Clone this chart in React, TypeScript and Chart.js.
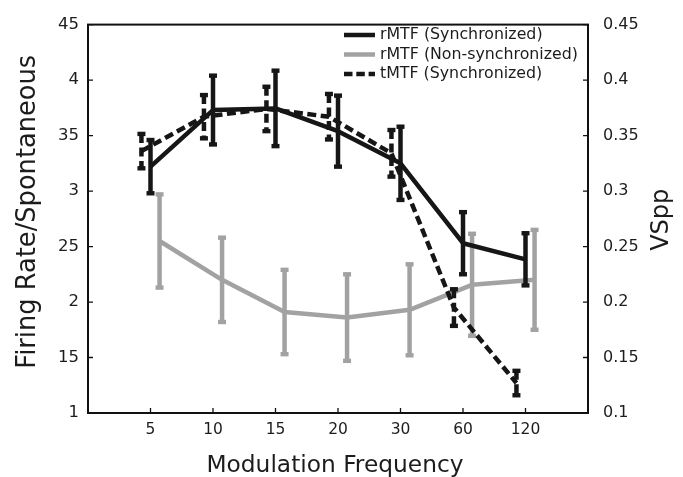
import React, { useEffect, useRef } from 'react';
import { Chart, registerables } from 'chart.js';

Chart.register(...registerables);

// ---- data ----
const categories = ['5', '10', '15', '20', '30', '60', '120'];

const rSyncMean = [3.22, 3.73, 3.745, 3.54, 3.25, 2.53, 2.385];
const rSyncErr = [0.24, 0.31, 0.34, 0.32, 0.33, 0.28, 0.235];

const rNonSyncMean = [2.55, 2.2, 1.91, 1.86, 1.93, 2.155, 2.2];
const rNonSyncErr = [0.42, 0.38, 0.38, 0.39, 0.41, 0.46, 0.45];

const tSyncMean = [0.336, 0.367, 0.374, 0.367, 0.334, 0.195, 0.127];
const tSyncErr = [0.0155, 0.0195, 0.02, 0.0205, 0.021, 0.0165, 0.011];

const leftTickLabels = ['1', '15', '2', '25', '3', '35', '4', '45'];
const rightTickLabels = ['0.1', '0.15', '0.2', '0.25', '0.3', '0.35', '0.4', '0.45'];

const legendLabels = ['rMTF (Synchronized)', 'rMTF (Non-synchronized)', 'tMTF (Synchronized)'];

const xTitle = 'Modulation Frequency';
const yLeftTitle = 'Firing Rate/Spontaneous';
const yRightTitle = 'VSpp';

// ---- styles ----
const FONT = "'DejaVu Sans', sans-serif";
const TEXT = '#1c1c1c';
const BLACK = '#161616';
const GRAY = '#a2a2a2';
const DASH = [9, 4.5];
const LINE_W = 4.5;
const ERR_W = 4.5;
const OFFSET_SYNC = 0;
const OFFSET_NONSYNC = 0.145;
const OFFSET_T = -0.145;

const toPoints = (vals: number[], off: number) => vals.map((v, i) => ({ x: i + 1 + off, y: v }));

const errorBarPlugin = {
  id: 'errorBars',
  afterDatasetDraw(chart: any, args: any) {
    const ds = chart.data.datasets[args.index];
    const errs: number[] = ds.errors;
    if (!errs) return;
    const ctx = chart.ctx;
    const xs = chart.scales.x;
    const ys = chart.scales[ds.yAxisID];
    ctx.save();
    ctx.strokeStyle = ds.borderColor;
    ctx.fillStyle = ds.borderColor;
    ctx.lineWidth = ERR_W;
    ctx.lineCap = 'butt';
    ctx.setLineDash(ds.borderDash || []);
    ds.data.forEach((p: any, i: number) => {
      const x = xs.getPixelForValue(p.x);
      const yTop = ys.getPixelForValue(p.y + errs[i]);
      const yBot = ys.getPixelForValue(p.y - errs[i]);
      ctx.beginPath();
      ctx.moveTo(x, yTop);
      ctx.lineTo(x, yBot);
      ctx.stroke();
      ctx.fillRect(x - 4, yTop - 2.2, 8, 4.4);
      ctx.fillRect(x - 4, yBot - 2.2, 8, 4.4);
    });
    ctx.restore();
  },
};

const framePlugin = {
  id: 'frame',
  afterDraw(chart: any) {
    const ctx = chart.ctx;
    const { left, right, top, bottom } = chart.chartArea;
    const xs = chart.scales.x;
    const yl = chart.scales.y;
    const yr = chart.scales.y2;
    ctx.save();
    ctx.strokeStyle = '#111';
    ctx.lineWidth = 1.3;
    // inward ticks
    ctx.beginPath();
    yl.ticks.forEach((t: any) => {
      const y = yl.getPixelForValue(t.value);
      ctx.moveTo(left, y);
      ctx.lineTo(left + 5, y);
    });
    yr.ticks.forEach((t: any) => {
      const y = yr.getPixelForValue(t.value);
      ctx.moveTo(right, y);
      ctx.lineTo(right - 5, y);
    });
    xs.ticks.forEach((t: any) => {
      if (t.value < 1 || t.value > categories.length) return;
      const x = xs.getPixelForValue(t.value);
      ctx.moveTo(x, bottom);
      ctx.lineTo(x, bottom - 5);
    });
    ctx.stroke();
    // box
    ctx.lineWidth = 2;
    ctx.strokeRect(left, top, right - left, bottom - top);
    ctx.restore();

    // legend
    const styles = [
      { color: BLACK, width: 4.5, dash: [] as number[] },
      { color: GRAY, width: 4.5, dash: [] as number[] },
      { color: BLACK, width: 4.5, dash: [8.5, 3.8] },
    ];
    ctx.save();
    ctx.font = `15.8px ${FONT}`;
    ctx.textBaseline = 'middle';
    ctx.textAlign = 'left';
    legendLabels.forEach((lab, i) => {
      const y = 35 + i * 19.5;
      const s = styles[i];
      ctx.strokeStyle = s.color;
      ctx.lineWidth = s.width;
      ctx.setLineDash(s.dash);
      ctx.beginPath();
      ctx.moveTo(344, y);
      ctx.lineTo(375, y);
      ctx.stroke();
      ctx.fillStyle = TEXT;
      ctx.fillText(lab, 380, y);
    });
    ctx.restore();

    // axis titles
    ctx.save();
    ctx.fillStyle = TEXT;
    ctx.textAlign = 'center';
    ctx.textBaseline = 'alphabetic';
    // bottom
    ctx.font = `23.3px ${FONT}`;
    ctx.fillText(xTitle, (left + right) / 2 - 3, 471.5);
    // left (reads bottom-to-top)
    ctx.save();
    ctx.font = `25.7px ${FONT}`;
    ctx.translate(34.5, (top + bottom) / 2 - 7);
    ctx.rotate(-Math.PI / 2);
    ctx.fillText(yLeftTitle, 0, 0);
    ctx.restore();
    // right (reads bottom-to-top)
    ctx.save();
    ctx.font = `24px ${FONT}`;
    ctx.translate(668, (top + bottom) / 2 + 1);
    ctx.rotate(-Math.PI / 2);
    ctx.fillText(yRightTitle, 0, 0);
    ctx.restore();
    ctx.restore();
  },
};

export default function App() {
  const ref = useRef<HTMLCanvasElement | null>(null);

  useEffect(() => {
    if (!ref.current) return;
    Chart.defaults.font.family = FONT;
    Chart.defaults.color = TEXT;
    const chart = new Chart(ref.current, {
      type: 'line',
      data: {
        datasets: [
          {
            label: legendLabels[0],
            data: toPoints(rSyncMean, OFFSET_SYNC),
            errors: rSyncErr,
            yAxisID: 'y',
            borderColor: BLACK,
            borderWidth: LINE_W,
            pointRadius: 0,
            tension: 0,
            order: 1,
            borderJoinStyle: 'round',
          } as any,
          {
            label: legendLabels[1],
            data: toPoints(rNonSyncMean, OFFSET_NONSYNC),
            errors: rNonSyncErr,
            yAxisID: 'y',
            borderColor: GRAY,
            borderWidth: LINE_W,
            pointRadius: 0,
            tension: 0,
            order: 2,
            borderJoinStyle: 'round',
          } as any,
          {
            label: legendLabels[2],
            data: toPoints(tSyncMean, OFFSET_T),
            errors: tSyncErr,
            yAxisID: 'y2',
            borderColor: BLACK,
            borderWidth: LINE_W,
            borderDash: DASH,
            pointRadius: 0,
            tension: 0,
            order: 0,
          } as any,
        ],
      },
      plugins: [errorBarPlugin, framePlugin],
      options: {
        animation: false,
        responsive: false,
        devicePixelRatio: 1,
        layout: { padding: { top: 18, left: 0, right: 0, bottom: 0 } },
        plugins: {
          legend: { display: false },
          tooltip: { enabled: false },
          title: { display: false },
        },
        scales: {
          x: {
            type: 'linear',
            position: 'bottom',
            min: 0,
            max: categories.length + 1,
            grid: { display: false, drawTicks: false },
            border: { display: false },
            ticks: {
              stepSize: 1,
              autoSkip: false,
              maxRotation: 0,
              padding: 8,
              font: { size: 15.5 },
              color: TEXT,
              callback: (v: any) => {
                const i = Math.round(Number(v)) - 1;
                return i >= 0 && i < categories.length ? categories[i] : '';
              },
            },
            afterFit: (s: any) => {
              s.height = 64;
            },
          },
          y: {
            type: 'linear',
            position: 'left',
            min: 1,
            max: 4.5,
            grid: { display: false, drawTicks: false },
            border: { display: false },
            ticks: {
              stepSize: 0.5,
              padding: 9,
              font: { size: 16.5 },
              color: TEXT,
              callback: (_v: any, i: number) => leftTickLabels[i],
            },
            afterFit: (s: any) => {
              s.width = 88;
            },
          },
          y2: {
            type: 'linear',
            position: 'right',
            min: 0.1,
            max: 0.45,
            grid: { display: false, drawTicks: false },
            border: { display: false },
            ticks: {
              stepSize: 0.05,
              padding: 15,
              font: { size: 16 },
              color: TEXT,
              callback: (_v: any, i: number) => rightTickLabels[i],
            },
            afterFit: (s: any) => {
              s.width = 95;
            },
          },
        },
      } as any,
    });
    return () => chart.destroy();
  }, []);

  return (
    <div style={{ position: 'fixed', left: 0, top: 0, width: 683, height: 477, background: '#fff' }}>
      <canvas ref={ref} width={683} height={477} style={{ display: 'block' }} />
    </div>
  );
}
